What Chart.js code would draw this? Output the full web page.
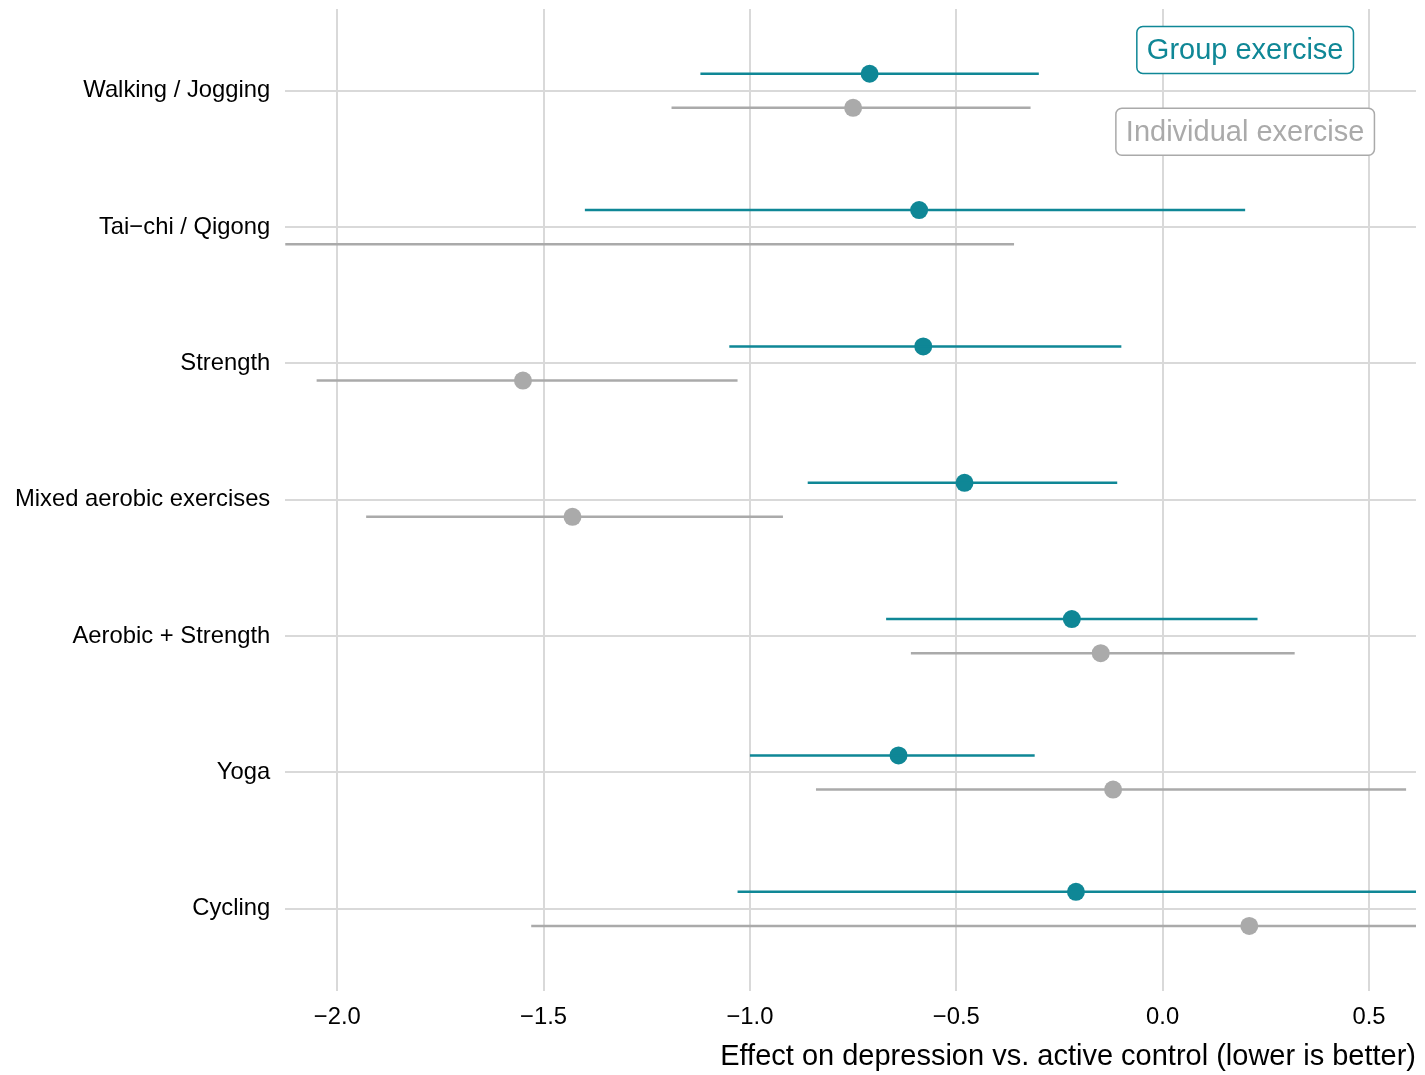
<!DOCTYPE html>
<html>
<head>
<meta charset="utf-8">
<title>Exercise and depression</title>
<script src="https://cdn.jsdelivr.net/npm/chart.js@4"></script>
<style>
  body { margin: 0; background: #fff; }
  #wrap { width: 1425px; height: 1075px; }
</style>
</head>
<body>
<div id="wrap"><canvas id="chart" width="1425" height="1075"></canvas></div>
<script>
// categories, top to bottom
const categorias = ['Walking / Jogging', 'Tai−chi / Qigong', 'Strength', 'Mixed aerobic exercises', 'Aerobic + Strength', 'Yoga', 'Cycling'];

// group exercise: estimate, lower, upper
const grupoEst = [-0.71, -0.59, -0.58, -0.48, -0.22, -0.64, -0.21];
const grupoInf = [-1.12, -1.40, -1.05, -0.86, -0.67, -1.00, -1.03];
const grupoSup = [-0.30, 0.20, -0.10, -0.11, 0.23, -0.31, 0.80];

// individual exercise: estimate, lower, upper
const indivEst = [-0.75, -2.35, -1.55, -1.43, -0.15, -0.12, 0.21];
const indivInf = [-1.19, -4.30, -2.05, -1.93, -0.61, -0.84, -1.53];
const indivSup = [-0.32, -0.36, -1.03, -0.92, 0.32, 0.59, 0.95];

const xTicks = [-2.0, -1.5, -1.0, -0.5, 0.0, 0.5];

const TEAL = '#0f8796';
const GRIS = '#aaaaaa';
const FUENTE = '"Liberation Sans", Arial, Helvetica, sans-serif';

// etiquetas de leyenda colocadas en coordenadas de datos
const etiquetas = [
  { texto: 'Group exercise', x: 0.2, y: -0.3, color: TEAL },
  { texto: 'Individual exercise', x: 0.2, y: 0.3, color: GRIS }
];

const dodge = 0.125;

function segmentos(inf, sup, off) {
  const out = [];
  categorias.forEach((c, i) => {
    out.push({ x: inf[i], y: i + off });
    out.push({ x: sup[i], y: i + off });
    out.push({ x: sup[i], y: null });
  });
  return out;
}

function puntos(est, off) {
  return est.map((v, i) => ({ x: v, y: i + off }));
}

function fmt(v) {
  return v < 0 ? '−' + Math.abs(v).toFixed(1) : v.toFixed(1);
}

const pluginEtiquetas = {
  id: 'etiquetas',
  afterDatasetsDraw(chart) {
    const { ctx, scales } = chart;
    ctx.save();
    ctx.font = '29px ' + FUENTE;
    ctx.textAlign = 'center';
    ctx.textBaseline = 'middle';
    etiquetas.forEach(e => {
      const px = scales.x.getPixelForValue(e.x);
      const py = scales.y.getPixelForValue(e.y);
      const w = ctx.measureText(e.texto).width + 20;
      const h = 47;
      ctx.beginPath();
      ctx.roundRect(px - w / 2, py - h / 2, w, h, 6);
      ctx.fillStyle = '#fff';
      ctx.fill();
      ctx.lineWidth = 1.5;
      ctx.strokeStyle = e.color;
      ctx.stroke();
      ctx.fillStyle = e.color;
      ctx.fillText(e.texto, px, py + 1);
    });
    ctx.restore();
  }
};

new Chart(document.getElementById('chart'), {
  type: 'scatter',
  data: {
    datasets: [
      { data: segmentos(indivInf, indivSup, dodge), showLine: true, borderColor: GRIS, borderWidth: 2.5, pointRadius: 0, spanGaps: false },
      { data: puntos(indivEst, dodge), backgroundColor: GRIS, borderWidth: 0, pointRadius: 9, pointHoverRadius: 9 },
      { data: segmentos(grupoInf, grupoSup, -dodge), showLine: true, borderColor: TEAL, borderWidth: 2.5, pointRadius: 0, spanGaps: false },
      { data: puntos(grupoEst, -dodge), backgroundColor: TEAL, borderWidth: 0, pointRadius: 9, pointHoverRadius: 9 }
    ]
  },
  options: {
    responsive: false,
    animation: false,
    layout: { padding: { left: 0, right: 0, top: 1, bottom: 1 } },
    plugins: { legend: { display: false }, tooltip: { enabled: false } },
    scales: {
      x: {
        type: 'linear',
        min: -2.126,
        max: 0.614,
        afterBuildTicks: axis => { axis.ticks = xTicks.map(v => ({ value: v })); },
        afterFit: axis => { axis.paddingLeft = 0; axis.paddingRight = 0; },
        grid: { color: '#d9d9d9', lineWidth: 2, drawTicks: false },
        border: { display: false },
        ticks: { callback: v => fmt(v), color: '#000', font: { family: FUENTE, size: 23.8 }, padding: 13, maxRotation: 0 },
        title: {
          display: true,
          text: 'Effect on depression vs. active control (lower is better)',
          align: 'end',
          color: '#000',
          font: { family: FUENTE, size: 29 },
          padding: { top: -6, bottom: 0 }
        }
      },
      y: {
        type: 'linear',
        reverse: true,
        min: -0.6,
        max: 6.6,
        afterBuildTicks: axis => { axis.ticks = categorias.map((c, i) => ({ value: i })); },
        afterFit: axis => { axis.paddingTop = 0; axis.paddingBottom = 0; },
        grid: { color: '#d9d9d9', lineWidth: 2, drawTicks: false },
        border: { display: false },
        ticks: { callback: v => categorias[v], color: '#000', font: { family: FUENTE, size: 23.8 }, padding: 15 }
      }
    }
  },
  plugins: [pluginEtiquetas]
});
</script>
</body>
</html>
